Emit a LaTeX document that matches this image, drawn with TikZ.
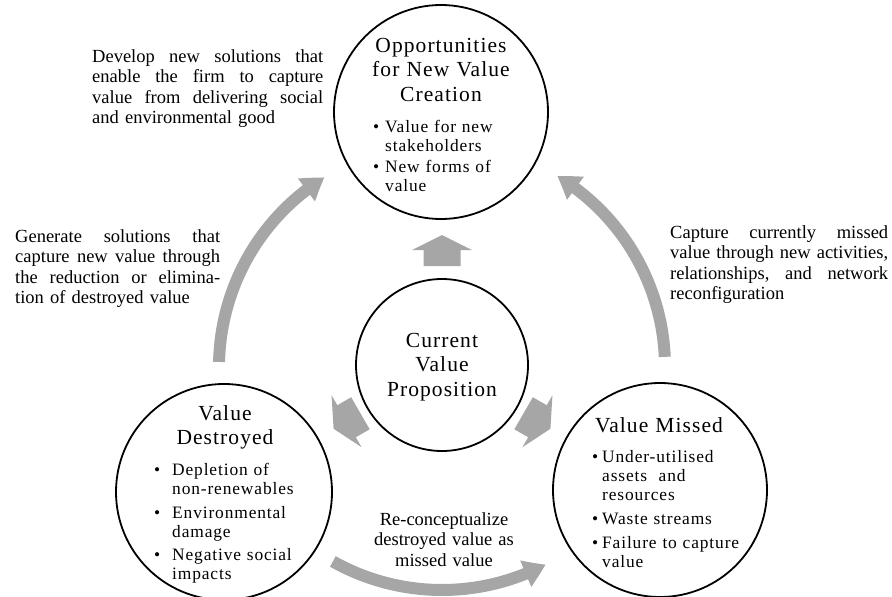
\documentclass[tikz,border=0pt]{standalone}
\usepackage{fontspec}
\setmainfont{Liberation Serif}
\newfontfamily\lsfont{Liberation Serif}[LetterSpace=5]
\usetikzlibrary{arrows.meta,bending}
\definecolor{arrgray}{HTML}{A6A6A6}
\newcommand\bitem[2]{\hangindent=#1\hangafter=1\noindent\makebox[#1][l]{\textbullet}#2\par}
\newcommand\jline[2]{\hbox to #1{#2}\newline}
\begin{document}
\begin{tikzpicture}[x=1pt,y=1pt,
  circ/.style={circle, draw, line width=1.8pt, inner sep=0pt},
  ttl/.style={inner sep=0pt, anchor=base, text width=220pt, align=center, font=\lsfont\fontsize{21.5}{24.5}\selectfont},
  bul/.style={inner sep=0pt, anchor=base west, text width=220pt, font=\lsfont\fontsize{17.4}{19}\selectfont},
  note/.style={inner sep=0pt, anchor=base west, font=\fontsize{18.5}{20.5}\selectfont},
  bigarrow/.style={draw=arrgray, line width=12pt, -{Triangle[length=22pt,width=27pt,bend]}},
  blockarrow/.style={fill=arrgray, draw=none}]
\useasboundingbox (0,0) rectangle (892,-597);

% circles
\node[circ, minimum size=214pt] (top) at (441,-112) {};
\node[circ, minimum size=172pt] (cen) at (442,-365) {};
\node[circ, minimum size=216pt] (vd) at (224,-492) {};
\node[circ, minimum size=214pt] (vm) at (660,-490) {};
\coordinate (hub) at (442,-367);

% titles
\node[ttl] (toptitle) at (441,-52) {Opportunities\\for New Value\\Creation};
\node[ttl] (centitle) at (442,-347) {Current\\Value\\Proposition};
\node[ttl] (vdtitle) at (225,-420) {Value\\Destroyed};
\node[ttl] (vmtitle) at (659,-432) {Value Missed};

% bullets
\node[bul] (topbul) at (373,-132) {\bitem{12pt}{Value for new\newline stakeholders}\vspace{2pt}\bitem{12pt}{New forms of\newline value}};
\node[bul] (vdbul) at (154,-475) {\bitem{18pt}{Depletion of\newline non-renewables}\vspace{5pt}\bitem{18pt}{Environmental\newline damage}\vspace{4pt}\bitem{18pt}{Negative social\newline impacts}};
\node[bul] (vmbul) at (592,-462) {\bitem{10pt}{Under-utilised\newline assets\ \ and\newline resources}\vspace{5pt}\bitem{10pt}{Waste streams}\vspace{5pt}\bitem{10pt}{Failure to capture\newline value}};

% annotations
\node[note, text width=231pt] (devnote) at (92,-62) {\jline{231pt}{Develop\hfill new\hfill solutions\hfill that}\jline{231pt}{enable\hfill the\hfill firm\hfill to\hfill capture}\jline{231pt}{value\hfill from\hfill delivering\hfill social}and environmental good};
\node[note, text width=205pt] (gennote) at (15,-242) {\jline{205pt}{Generate\hfill solutions\hfill that}\jline{205pt}{capture\hfill new\hfill value\hfill through}\jline{205pt}{the\hfill reduction\hfill or\hfill elimina-}tion of destroyed value};
\node[note, text width=218pt] (capnote) at (670,-238) {\jline{218pt}{Capture\hfill currently\hfill missed}\jline{218pt}{value\hfill through\hfill new\hfill activities,}\jline{218pt}{relationships,\hfill and\hfill network}reconfiguration};
\node[note, anchor=base, text width=200pt, align=center] (renote) at (444,-525) {Re-conceptualize\\destroyed value as\\missed value};

% block arrows from the current value proposition
\fill[blockarrow, shift={(442,-250.5)}] (0,15.5) -- (30,0.5) -- (18.5,0.5) -- (18.5,-15.5) -- (-18.5,-15.5) -- (-18.5,0.5) -- (-30,0.5) -- cycle;
\fill[blockarrow, shift={(347,-421)}, rotate=120] (0,15.5) -- (30,0.5) -- (18.5,0.5) -- (18.5,-15.5) -- (-18.5,-15.5) -- (-18.5,0.5) -- (-30,0.5) -- cycle;
\fill[blockarrow, shift={(537,-421)}, rotate=-120] (0,15.5) -- (30,0.5) -- (18.5,0.5) -- (18.5,-15.5) -- (-18.5,-15.5) -- (-18.5,0.5) -- (-30,0.5) -- cycle;

% curved arrows
\draw[bigarrow] ([shift={(178.7:223)}]hub) arc[start angle=178.7, end angle=121.8, radius=223];
\draw[bigarrow] ([shift={(2.6:223)}]hub) arc[start angle=2.6, end angle=58.9, radius=223];
\draw[bigarrow] ([shift={(240.7:223)}]hub) arc[start angle=240.7, end angle=297.7, radius=223];
\end{tikzpicture}
\end{document}
